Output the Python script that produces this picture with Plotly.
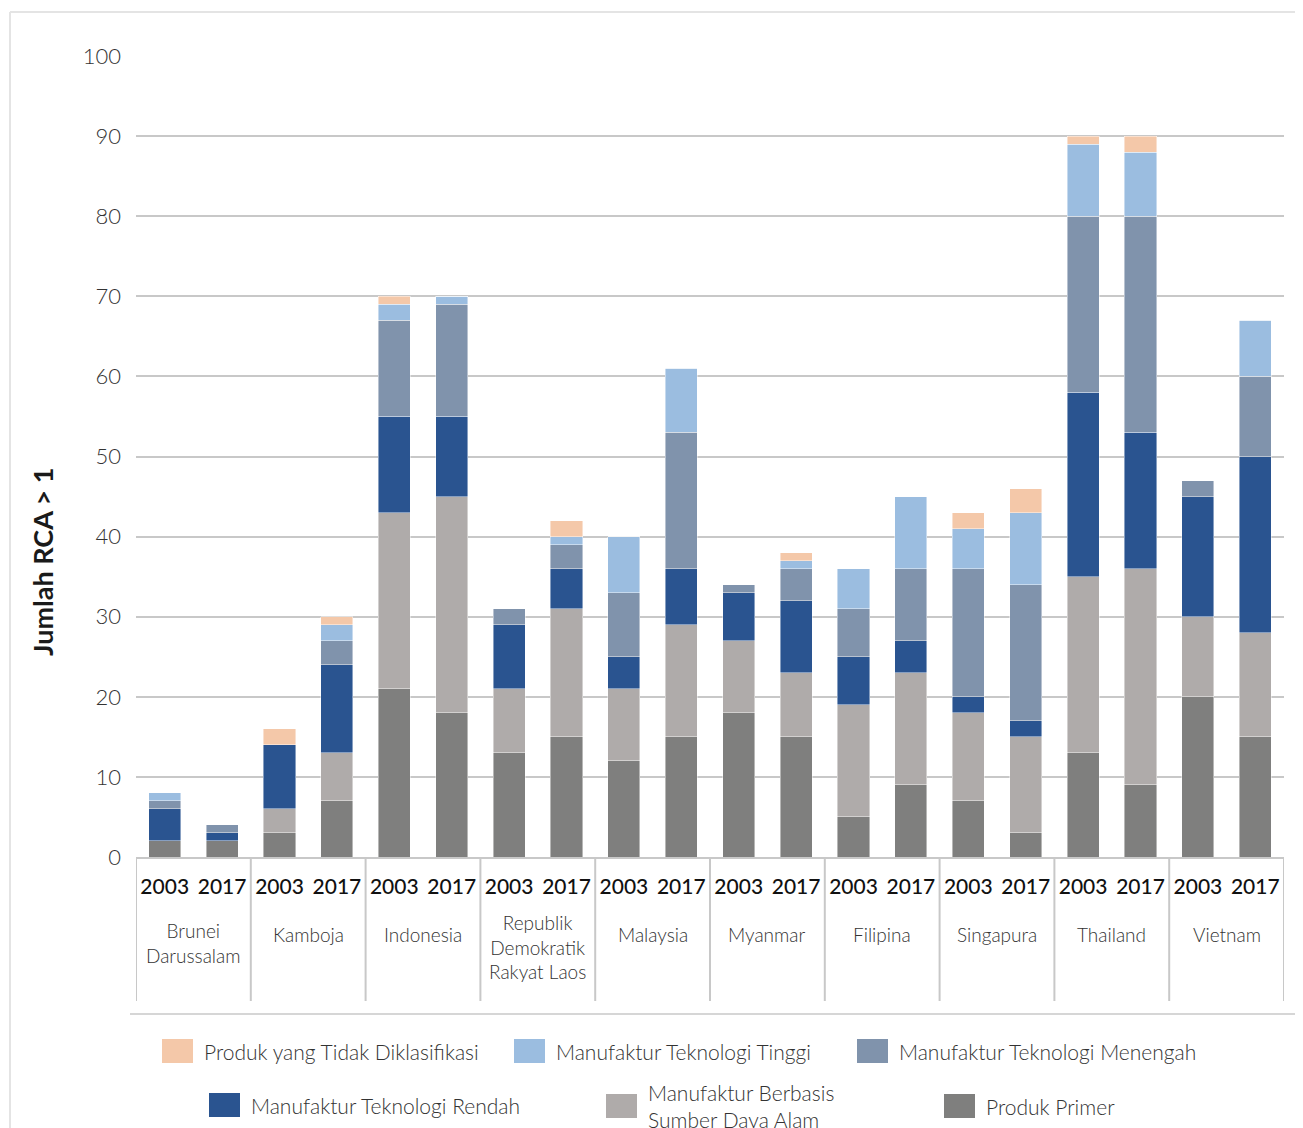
import plotly.graph_objects as go

countries = ["Brunei<br>Darussalam", "Kamboja", "Indonesia", "Republik<br>Demokratik<br>Rakyat Laos",
             "Malaysia", "Myanmar", "Filipina", "Singapura", "Thailand", "Vietnam"]
years = ["2003", "2017"]

# values per bar: order Brunei03, Brunei17, Kamboja03, Kamboja17, ...
produk_primer = [2, 2, 3, 7, 21, 18, 13, 15, 12, 15, 18, 15, 5, 9, 7, 3, 13, 9, 20, 15]
berbasis_sda  = [0, 0, 3, 6, 22, 27, 8, 16, 9, 14, 9, 8, 14, 14, 11, 12, 22, 27, 10, 13]
tek_rendah    = [4, 1, 8, 11, 12, 10, 8, 5, 4, 7, 6, 9, 6, 4, 2, 2, 23, 17, 15, 22]
tek_menengah  = [1, 1, 0, 3, 12, 14, 2, 3, 8, 17, 1, 4, 6, 9, 16, 17, 22, 27, 2, 10]
tek_tinggi    = [1, 0, 0, 2, 2, 1, 0, 1, 7, 8, 0, 1, 5, 9, 5, 9, 9, 8, 0, 7]
tidak_diklas  = [0, 0, 2, 1, 1, 0, 0, 2, 0, 0, 0, 1, 0, 0, 2, 3, 1, 2, 0, 0]

y_ticks = [0, 10, 20, 30, 40, 50, 60, 70, 80, 90, 100]

series = [
    ("Produk Primer", produk_primer, "#7f7f7e"),
    ("Manufaktur Berbasis<br>Sumber Daya Alam", berbasis_sda, "#afabaa"),
    ("Manufaktur Teknologi Rendah", tek_rendah, "#2a5490"),
    ("Manufaktur Teknologi Menengah", tek_menengah, "#8093ac"),
    ("Manufaktur Teknologi Tinggi", tek_tinggi, "#9bbde0"),
    ("Produk yang Tidak Diklasifikasi", tidak_diklas, "#f4c8a9"),
]

x_pos = list(range(len(countries) * len(years)))
x_text = [y for _ in countries for y in years]

# page offset (body margin)
OFF = 8
W, H = 1303 - OFF, 1128 - OFF
PL, PR, PT, PB = 136, 1284, 56, 857  # plot area in page pixels
L, T = PL - OFF, PT - OFF
R = W - (PR - OFF)
B = H - (PB - OFF)
PW, PH = PR - PL, PB - PT


def px(p):
    return (p - PL) / PW


def py(p):
    return (PB - p) / PH


fig = go.Figure()
for name, vals, col in series:
    fig.add_trace(go.Bar(
        x=x_pos, y=vals, name=name, marker_color=col,
        marker_line=dict(color="rgba(255,255,255,0.55)", width=0.8),
        showlegend=False,
    ))

FONT = "Lato"
shapes = []
annotations = []

# group dividers below the axis
for i in range(len(countries) + 1):
    xv = i * 2 - 0.5
    shapes.append(dict(type="line", xref="x", yref="paper", x0=xv, x1=xv,
                       y0=0, y1=py(1001), line=dict(color="#c8c8c8", width=2)))
# bottom line
shapes.append(dict(type="line", xref="paper", yref="paper", x0=px(130), x1=px(1298),
                   y0=py(1014), y1=py(1014), line=dict(color="#c8c8c8", width=1.5)))
# outer frame
shapes.append(dict(type="line", xref="paper", yref="paper", x0=px(10), x1=px(1303),
                   y0=py(12), y1=py(12), line=dict(color="#e4e4e4", width=2)))
shapes.append(dict(type="line", xref="paper", yref="paper", x0=px(10), x1=px(10),
                   y0=py(12), y1=py(1128), line=dict(color="#e4e4e4", width=2)))

# country labels
country_centers = [943, 934, 934, 947, 934, 934, 934, 934, 934, 934]
for i, (c, cy) in enumerate(zip(countries, country_centers)):
    annotations.append(dict(x=i * 2 + 0.5, xref="x", y=py(cy), yref="paper",
                            text=c, showarrow=False, xanchor="center", yanchor="middle",
                            font=dict(family=FONT, size=19, color="#333333", weight=300)))

# y-axis title
annotations.append(dict(x=px(42), y=py(562), xref="paper", yref="paper", text="<b>Jumlah RCA > 1</b>",
                        showarrow=False, textangle=-90, xanchor="center", yanchor="middle",
                        font=dict(family=FONT, size=27, color="#1a1a1a")))

# custom legend
legend_items = [
    ("Produk yang Tidak Diklasifikasi", "#f4c8a9", 162, 1051),
    ("Manufaktur Teknologi Tinggi", "#9bbde0", 514, 1051),
    ("Manufaktur Teknologi Menengah", "#8093ac", 857, 1051),
    ("Manufaktur Teknologi Rendah", "#2a5490", 209, 1105),
    ("Manufaktur Berbasis<br>Sumber Daya Alam", "#afabaa", 606, 1106),
    ("Produk Primer", "#7f7f7e", 944, 1106),
]
for text, col, sx, sy in legend_items:
    shapes.append(dict(type="rect", xref="paper", yref="paper", x0=px(sx), x1=px(sx + 31),
                       y0=py(sy - 12), y1=py(sy + 12), fillcolor=col, line=dict(width=0)))
    annotations.append(dict(x=px(sx + 40), y=py(sy), xref="paper", yref="paper", text=text,
                            showarrow=False, xanchor="left", yanchor="middle", align="left",
                            font=dict(family=FONT, size=21, color="#333333", weight=300)))

fig.update_layout(
    width=W, height=H,
    margin=dict(l=L, r=R, t=T, b=B),
    barmode="stack", bargap=0.44,
    plot_bgcolor="white", paper_bgcolor="white",
    font=dict(family=FONT),
    xaxis=dict(
        tickvals=x_pos, ticktext=x_text, range=[-0.5, len(x_pos) - 0.5],
        showgrid=False, zeroline=False, showline=True, linecolor="#c8c8c8", linewidth=2,
        ticks="", tickangle=0, ticklabelstandoff=10,
        tickfont=dict(family=FONT, size=21, color="#111111", weight=500),
    ),
    yaxis=dict(
        range=[0, 100], tickvals=y_ticks, showgrid=True, gridcolor="#c8c8c8", gridwidth=2,
        zeroline=False, showline=False, ticks="", ticklabelstandoff=14,
        tickfont=dict(family=FONT, size=22, color="#333333", weight=300),
    ),
    shapes=shapes, annotations=annotations,
)

fig.write_html("out.html")
